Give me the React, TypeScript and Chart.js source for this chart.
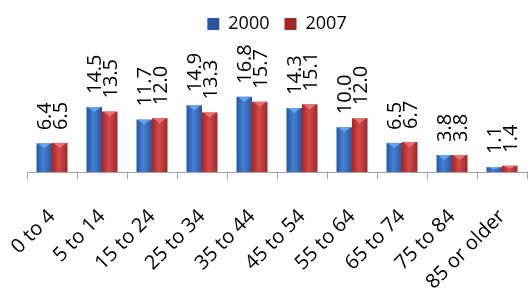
import { useEffect, useRef } from 'react';
import { Chart, registerables } from 'chart.js';
Chart.register(...registerables);

const categories = ['0 to 4', '5 to 14', '15 to 24', '25 to 34', '35 to 44', '45 to 54', '55 to 64', '65 to 74', '75 to 84', '85 or older'];
const values2000 = [6.4, 14.5, 11.7, 14.9, 16.8, 14.3, 10.0, 6.5, 3.8, 1.1];
const values2007 = [6.5, 13.5, 12.0, 13.3, 15.7, 15.1, 12.0, 6.7, 3.8, 1.4];
const seriesNames = ['2000', '2007'];

const FONT = '"Open Sans", "DejaVu Sans", sans-serif';
const CAT_PCT = 0.62;

const palettes = [
  { edge: '#2A579C', mid: '#4281D6', solid: '#3A6FBE', top: '#6AAAF2' },
  { edge: '#A52626', mid: '#D34A4A', solid: '#C03838', top: '#EE7878' },
];

function makeBg(dsIndex: number) {
  return (ctx: any) => {
    const p = palettes[dsIndex];
    if (ctx.type !== 'data') return p.solid;
    const chart = ctx.chart;
    const xs = chart.scales && chart.scales.x;
    if (!xs || !xs.width) return p.solid;
    const center = xs.getPixelForValue(ctx.dataIndex);
    const catW = xs.width / categories.length;
    const barW = (catW * CAT_PCT) / 2;
    const left = dsIndex === 0 ? center - barW : center;
    const g = chart.ctx.createLinearGradient(left, 0, left + barW, 0);
    g.addColorStop(0, p.edge);
    g.addColorStop(0.45, p.mid);
    g.addColorStop(1, p.edge);
    return g;
  };
}

const barDecor = {
  id: 'barDecor',
  afterDatasetsDraw(chart: any) {
    const c = chart.ctx;
    chart.data.datasets.forEach((ds: any, di: number) => {
      const meta = chart.getDatasetMeta(di);
      meta.data.forEach((el: any, i: number) => {
        const { x, y, width, base } = el.getProps(['x', 'y', 'width', 'base'], true);
        const l = x - width / 2;
        const r = x + width / 2;
        const h = Math.min(5, (base - y) / 2);
        c.save();
        c.fillStyle = palettes[di].top;
        c.globalAlpha = 0.85;
        c.beginPath();
        c.moveTo(l + 1, y);
        c.lineTo(r - 1, y);
        c.lineTo(x, y + h);
        c.closePath();
        c.fill();
        c.restore();
        // data label
        const v = ds.data[i];
        c.save();
        c.translate(x, y - 13);
        c.rotate(-Math.PI / 2);
        c.font = `20px ${FONT}`;
        c.fillStyle = '#000';
        c.textAlign = 'left';
        c.textBaseline = 'alphabetic';
        c.fillText(v.toFixed(1), 0, 7.2);
        c.restore();
      });
    });
  },
};

export default function App() {
  const ref = useRef<HTMLCanvasElement>(null);
  useEffect(() => {
    document.body.style.margin = '0';
    const chart = new Chart(ref.current!, {
      type: 'bar',
      data: {
        labels: categories,
        datasets: [
          { label: seriesNames[0], data: values2000, backgroundColor: makeBg(0), borderWidth: 0 },
          { label: seriesNames[1], data: values2007, backgroundColor: makeBg(1), borderWidth: 0 },
        ],
      },
      options: {
        responsive: false,
        animation: false,
        layout: { padding: { left: 27, right: 2, top: 0, bottom: 0 } },
        datasets: { bar: { categoryPercentage: CAT_PCT, barPercentage: 1 } },
        plugins: {
          legend: {
            position: 'top',
            align: 'center',
            labels: {
              boxWidth: 12,
              boxHeight: 12,
              padding: 15,
              color: '#000',
              font: { family: FONT, size: 18 },
            },
          },
          tooltip: { enabled: false },
        },
        scales: {
          x: {
            offset: true,
            grid: { display: true, drawOnChartArea: false, offset: true, tickLength: 7, color: '#A0A0A0' },
            border: { display: true, color: '#A0A0A0', width: 1 },
            ticks: {
              minRotation: 45,
              maxRotation: 45,
              padding: 26,
              color: '#000',
              font: { family: FONT, size: 20 },
              autoSkip: false,
            },
            afterFit: (s: any) => {
              s.paddingLeft = 0;
              s.paddingRight = 0;
              s.height = 117;
            },
          },
          y: {
            display: false,
            min: 0,
            max: 28.8,
          },
        },
      },
      plugins: [barDecor],
    });
    return () => chart.destroy();
  }, []);
  return (
    <div style={{ width: 529, height: 289 }}>
      <canvas ref={ref} width={529} height={289} />
    </div>
  );
}
